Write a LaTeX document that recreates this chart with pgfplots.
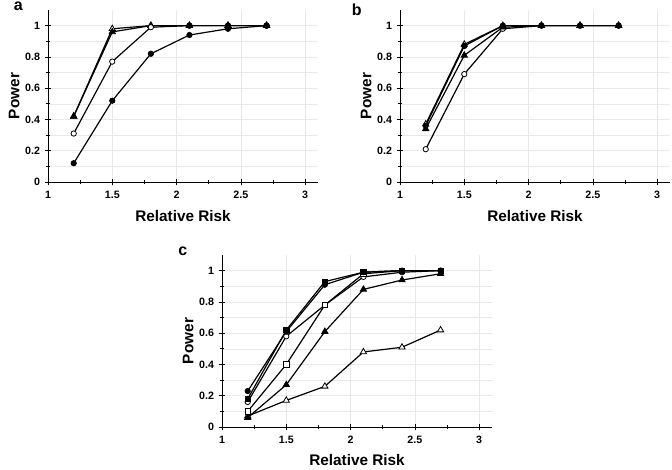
\documentclass[border=0pt]{standalone}
\usepackage{fontspec}
\setmainfont{Liberation Sans}
\usepackage{pgfplots}
\pgfplotsset{compat=1.18}

\pgfplotsset{
  powerax/.style={
    scale only axis,
    width=202.5pt, height=129pt,
    anchor=south west,
    axis lines=left,
    axis line style={-, line width=0.6pt},
    xmin=1, xmax=3.1, ymin=0, ymax=1.1,
    xtick={1,1.5,2,2.5,3},
    ytick={0,0.2,0.4,0.6,0.8,1},
    minor x tick num=1, minor y tick num=1,
    tick align=center,
    major tick length=5pt, minor tick length=3.5pt,
    tick style={black, line width=0.5pt},
    xmajorgrids, ymajorgrids, yminorgrids,
    grid style={gray!18, line width=0.4pt},
    minor grid style={gray!18, line width=0.4pt},
    ticklabel style={font=\fontsize{8}{9}\selectfont\bfseries},
    /pgf/number format/assume math mode=true,
    xticklabel style={yshift=-1pt},
    xlabel={Relative Risk},
    ylabel={Power},
    every axis x label/.style={at={(axis description cs:0.5,-0.2)}, anchor=center,
      font=\fontsize{11.5}{12}\selectfont\bfseries},
    every axis y label/.style={at={(axis description cs:-0.125,0.5)}, rotate=90, anchor=center,
      font=\fontsize{11.5}{12}\selectfont\bfseries},
    clip=false,
  },
  ln/.style={black, line width=0.9pt},
  fc/.style={ln, mark=*, mark size=2pt, mark options={solid, fill=black, line width=0.6pt}},
  oc/.style={ln, mark=*, mark size=2pt, mark options={solid, fill=white, line width=0.6pt}},
  ft/.style={ln, mark=triangle*, mark size=2.7pt, mark options={solid, fill=black, line width=0.6pt}},
  ot/.style={ln, mark=triangle*, mark size=2.7pt, mark options={solid, fill=white, line width=0.6pt}},
  fs/.style={ln, mark=square*, mark size=2pt, mark options={solid, fill=black, line width=0.6pt}},
  os/.style={ln, mark=square*, mark size=2pt, mark options={solid, fill=white, line width=0.6pt}},
}

\begin{document}
\begin{tikzpicture}
\path[use as bounding box] (0,0) rectangle (504pt,351.75pt);

% panel a
\begin{axis}[powerax, at={(36pt,215.25pt)}]
\addplot[ot] coordinates {(1.2,0.42) (1.5,0.98) (1.8,1) (2.1,1) (2.4,1) (2.7,1)};
\addplot[ft] coordinates {(1.2,0.42) (1.5,0.96) (1.8,1) (2.1,1) (2.4,1) (2.7,1)};
\addplot[oc] coordinates {(1.2,0.31) (1.5,0.77) (1.8,0.99) (2.1,1) (2.4,1) (2.7,1)};
\addplot[fc] coordinates {(1.2,0.12) (1.5,0.52) (1.8,0.82) (2.1,0.94) (2.4,0.98) (2.7,1)};
\addplot[fc] coordinates {(2.1,1) (2.4,1) (2.7,1)};
\node[font=\fontsize{12}{13}\selectfont\bfseries, anchor=center] at (axis description cs:-0.11,1.02) {a};
\end{axis}

% panel b
\begin{axis}[powerax, at={(300pt,215.25pt)}]
\addplot[oc] coordinates {(1.2,0.21) (1.5,0.69) (1.8,0.98) (2.1,1) (2.4,1) (2.7,1)};
\addplot[ft] coordinates {(1.2,0.34) (1.5,0.81) (1.8,0.99) (2.1,1) (2.4,1) (2.7,1)};
\addplot[ot] coordinates {(1.2,0.37) (1.5,0.88) (1.8,1) (2.1,1) (2.4,1) (2.7,1)};
\addplot[fc] coordinates {(1.2,0.36) (1.5,0.87) (1.8,1) (2.1,1) (2.4,1) (2.7,1)};
\node[font=\fontsize{12}{13}\selectfont\bfseries, anchor=center] at (axis description cs:-0.16,1.0) {b};
\end{axis}

% panel c
\begin{axis}[powerax, at={(166.5pt,31.5pt)},
  every axis x label/.append style={at={(axis description cs:0.5,-0.19)}}]
\addplot[ot] coordinates {(1.2,0.07) (1.5,0.17) (1.8,0.26) (2.1,0.48) (2.4,0.51) (2.7,0.62)};
\addplot[ft] coordinates {(1.2,0.06) (1.5,0.27) (1.8,0.61) (2.1,0.88) (2.4,0.94) (2.7,0.98)};
\addplot[oc] coordinates {(1.2,0.16) (1.5,0.58) (1.8,0.78) (2.1,0.96) (2.4,0.99) (2.7,1)};
\addplot[os] coordinates {(1.2,0.10) (1.5,0.40) (1.8,0.78) (2.1,0.98) (2.4,1) (2.7,1)};
\addplot[fc] coordinates {(1.2,0.23) (1.5,0.61) (1.8,0.91) (2.1,0.99) (2.4,1) (2.7,1)};
\addplot[fs] coordinates {(1.2,0.18) (1.5,0.62) (1.8,0.93) (2.1,0.99) (2.4,1) (2.7,1)};
\node[font=\fontsize{12}{13}\selectfont\bfseries, anchor=center] at (axis description cs:-0.145,1.02) {c};
\end{axis}
\end{tikzpicture}
\end{document}
